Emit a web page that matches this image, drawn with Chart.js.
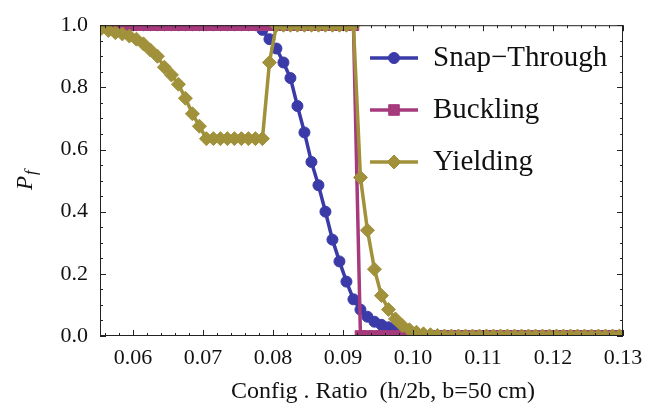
<!DOCTYPE html>
<html>
<head>
<meta charset="utf-8">
<script src="https://cdn.jsdelivr.net/npm/chart.js@4.4.0/dist/chart.umd.min.js"></script>
<style>
  body { margin: 0; background: #fff; }
</style>
</head>
<body>
<canvas id="pfChart" width="664" height="410"></canvas>
<script>
// config ratio h/2b (b = 50 cm)
var ratio = [0.0555, 0.0565, 0.0575, 0.0585, 0.0595, 0.0605, 0.0615, 0.0625, 0.0635, 0.0645,
             0.0655, 0.0665, 0.0675, 0.0685, 0.0695, 0.0705, 0.0715, 0.0725, 0.0735, 0.0745,
             0.0755, 0.0765, 0.0775, 0.0785, 0.0795, 0.0805, 0.0815, 0.0825, 0.0835, 0.0845,
             0.0855, 0.0865, 0.0875, 0.0885, 0.0895, 0.0905, 0.0915, 0.0925, 0.0935, 0.0945,
             0.0955, 0.0965, 0.0975, 0.0985, 0.0995, 0.1005, 0.1015, 0.1025, 0.1035, 0.1045,
             0.1055, 0.1065, 0.1075, 0.1085, 0.1095, 0.1105, 0.1115, 0.1125, 0.1135, 0.1145,
             0.1155, 0.1165, 0.1175, 0.1185, 0.1195, 0.1205, 0.1215, 0.1225, 0.1235, 0.1245,
             0.1255, 0.1265, 0.1275, 0.1285, 0.1295, 0.1305];

var snapThrough = [1, 1, 1, 1, 1, 1, 1, 1, 1, 1,
                   1, 1, 1, 1, 1, 1, 1, 1, 1, 1,
                   1, 1, 1, 0.985, 0.955, 0.925, 0.88, 0.83, 0.74, 0.655,
                   0.56, 0.485, 0.40, 0.31, 0.24, 0.175, 0.118, 0.085, 0.062, 0.046,
                   0.036, 0.028, 0.022, 0.016, 0.01, 0.006, 0.003, 0.001, 0, 0,
                   0, 0, 0, 0, 0, 0, 0, 0, 0, 0,
                   0, 0, 0, 0, 0, 0, 0, 0, 0, 0,
                   0, 0, 0, 0, 0, 0];

var buckling = [1, 1, 1, 1, 1, 1, 1, 1, 1, 1,
                1, 1, 1, 1, 1, 1, 1, 1, 1, 1,
                1, 1, 1, 1, 1, 1, 1, 1, 1, 1,
                1, 1, 1, 1, 1, 1, 1, 0, 0, 0,
                0, 0, 0, 0, 0, 0, 0, 0, 0, 0,
                0, 0, 0, 0, 0, 0, 0, 0, 0, 0,
                0, 0, 0, 0, 0, 0, 0, 0, 0, 0,
                0, 0, 0, 0, 0, 0];

var yielding = [0.99, 0.983, 0.976, 0.972, 0.965, 0.955, 0.94, 0.92, 0.90, 0.865,
                0.84, 0.81, 0.765, 0.715, 0.675, 0.635, 0.635, 0.635, 0.635, 0.635,
                0.635, 0.635, 0.635, 0.635, 0.88, 1, 1, 1, 1, 1,
                1, 1, 1, 1, 1, 1, 1, 0.51, 0.34, 0.215,
                0.13, 0.085, 0.055, 0.033, 0.02, 0.012, 0.007, 0.004, 0.002, 0,
                0, 0, 0, 0, 0, 0, 0, 0, 0, 0,
                0, 0, 0, 0, 0, 0, 0, 0, 0, 0,
                0, 0, 0, 0, 0, 0];

var xTicks = [0.06, 0.07, 0.08, 0.09, 0.10, 0.11, 0.12, 0.13];
var yTicks = [0.0, 0.2, 0.4, 0.6, 0.8, 1.0];
var seriesNames = ['Snap\u2212Through', 'Buckling', 'Yielding'];
var seriesColors = ['rgb(58,58,168)', 'rgb(166,58,124)', 'rgb(160,145,58)'];
var seriesMarkers = ['circle', 'rect', 'rectRot'];
var markerSizes = [5.5, 7.5, 7];

var serif = '"Liberation Serif", "DejaVu Serif", serif';

function pairs(ys) {
    return ratio.map(function (x, i) { return { x: x, y: ys[i] }; });
}

var frameAndText = {
    id: 'frameAndText',
    afterDraw: function (chart) {
        var ctx = chart.ctx;
        var a = chart.chartArea;
        var sx = chart.scales.x, sy = chart.scales.y;
        ctx.save();
        ctx.strokeStyle = '#222';
        ctx.lineWidth = 1;
        ctx.strokeRect(a.left + 0.5, a.top + 0.5, a.right - a.left - 1, a.bottom - a.top - 1);

        // inward ticks on all four sides
        ctx.beginPath();
        var v, px, len;
        for (v = 0.056; v <= 0.1301; v += 0.002) {
            px = Math.round(sx.getPixelForValue(v)) + 0.5;
            len = xTicks.some(function (t) { return Math.abs(t - v) < 1e-6; }) ? 6 : 3;
            ctx.moveTo(px, a.bottom); ctx.lineTo(px, a.bottom - len);
            ctx.moveTo(px, a.top); ctx.lineTo(px, a.top + len);
        }
        for (v = 0; v <= 1.0001; v += 0.05) {
            px = Math.round(sy.getPixelForValue(v)) + 0.5;
            len = (Math.round(v * 100) % 20 === 0) ? 6 : 3;
            ctx.moveTo(a.left, px); ctx.lineTo(a.left + len, px);
            ctx.moveTo(a.right, px); ctx.lineTo(a.right - len, px);
        }
        ctx.stroke();

        // legend inside the plot
        var rows = [58, 110, 162];
        chart.data.datasets.forEach(function (ds, i) {
            var y = rows[i];
            ctx.strokeStyle = ds.borderColor;
            ctx.lineWidth = 3.5;
            ctx.beginPath(); ctx.moveTo(370, y); ctx.lineTo(418, y); ctx.stroke();
            ctx.fillStyle = ds.borderColor;
            ctx.lineWidth = 1;
            Chart.helpers.drawPoint(ctx, {
                pointStyle: ds.pointStyle, radius: ds.pointRadius, rotation: 0, borderWidth: 1
            }, 394, y);
            ctx.fillStyle = '#111';
            ctx.font = '29px ' + serif;
            ctx.textAlign = 'left';
            ctx.textBaseline = 'alphabetic';
            ctx.fillText(ds.label, 433, y + 8);
        });

        // axis titles
        ctx.fillStyle = '#111';
        ctx.font = '24px ' + serif;
        ctx.textAlign = 'center';
        ctx.textBaseline = 'alphabetic';
        ctx.fillText('Config . Ratio  (h/2b, b=50 cm)', 383, 398);

        ctx.translate(32, 190);
        ctx.rotate(-Math.PI / 2);
        ctx.textAlign = 'left';
        ctx.font = 'italic 23px ' + serif;
        ctx.fillText('P', 0, 0);
        var w = ctx.measureText('P').width;
        ctx.font = 'italic 17px ' + serif;
        ctx.fillText('f', w + 1, 4);
        ctx.restore();
    }
};

var datasets = [snapThrough, buckling, yielding].map(function (ys, i) {
    return {
        label: seriesNames[i],
        data: pairs(ys),
        borderColor: seriesColors[i],
        backgroundColor: seriesColors[i],
        pointBackgroundColor: seriesColors[i],
        pointBorderColor: seriesColors[i],
        pointStyle: seriesMarkers[i],
        pointRadius: markerSizes[i],
        pointBorderWidth: 1,
        borderWidth: 3.5,
        showLine: true,
        tension: 0,
        clip: 0,
        order: 3 - i
    };
});

var ctx = document.getElementById('pfChart').getContext('2d');
var pfChart = new Chart(ctx, {
    type: 'scatter',
    data: { datasets: datasets },
    options: {
        responsive: false,
        animation: false,
        events: [],
        layout: { padding: { left: 0, top: 15, right: 41, bottom: 0 } },
        plugins: { legend: { display: false }, tooltip: { enabled: false } },
        scales: {
            x: {
                type: 'linear',
                min: 0.0553,
                max: 0.13,
                afterBuildTicks: function (s) { s.ticks = xTicks.map(function (v) { return { value: v }; }); },
                afterFit: function (s) { s.height = 74; },
                ticks: {
                    callback: function (v) { return v.toFixed(2); },
                    font: { family: serif, size: 22 },
                    color: '#111',
                    padding: 9,
                    maxRotation: 0,
                    autoSkip: false
                },
                grid: { display: false, drawTicks: false },
                border: { display: false }
            },
            y: {
                min: 0,
                max: 1,
                afterBuildTicks: function (s) { s.ticks = yTicks.map(function (v) { return { value: v }; }); },
                afterFit: function (s) { s.width = 100; },
                ticks: {
                    callback: function (v) { return v.toFixed(1); },
                    font: { family: serif, size: 22 },
                    color: '#111',
                    padding: 12
                },
                grid: { display: false, drawTicks: false },
                border: { display: false }
            }
        }
    },
    plugins: [frameAndText]
});
</script>
</body>
</html>
